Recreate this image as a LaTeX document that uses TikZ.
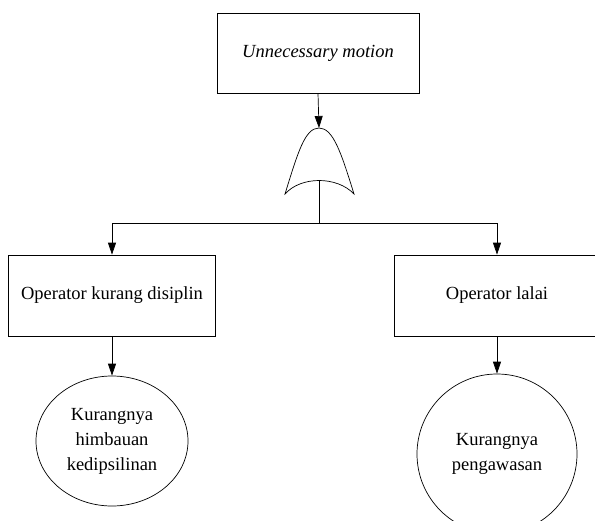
\documentclass[tikz,border=0pt]{standalone}
\usepackage{fontspec}
\setmainfont{Liberation Serif}
\usetikzlibrary{arrows.meta,shapes.geometric}
\begin{document}
\begin{tikzpicture}[x=1pt,y=-1pt,
  line width=0.7pt,
  event/.style={draw, rectangle, inner sep=0pt, font=\fontsize{18.5}{22}\selectfont, align=center},
  basic/.style={draw, ellipse, inner sep=0pt, font=\fontsize{18.5}{25}\selectfont, align=center},
  arr/.style={-{Triangle[length=12pt,width=8pt]}}]
\useasboundingbox (0,0) rectangle (595,520);
\begin{scope}
\clip (0,0) rectangle (595,520);
% events
\node[event, minimum width=202pt, minimum height=80pt] (top) at (318,53) {\itshape Unnecessary motion};
\node[event, minimum width=207pt, minimum height=81pt] (lbox) at (112,295.5) {Operator kurang disiplin};
\node[event, minimum width=206pt, minimum height=81pt] (rbox) at (497,295.5) {Operator lalai};
% basic causes
\node[basic, minimum width=152pt, minimum height=130pt] (lcause) at (112,441) {Kurangnya\\himbauan\\kedipsilinan};
\node[basic, minimum width=160pt, minimum height=160pt] (rcause) at (497,454) {Kurangnya\\pengawasan};
% OR gate
\coordinate (gtop) at (319,128);
\coordinate (gl) at (285,194);
\coordinate (gr) at (354,194);
\coordinate (gin) at (319,180);
\coordinate (split) at (319,223);
\draw (gl) .. controls (298,152) and (305,128) .. (gtop)
      .. controls (333,128) and (341,152) .. (gr)
      .. controls (337,176) and (301,176) .. (gl) -- cycle;
% connectors
\draw[arr] (top.south) -- (gtop);
\draw (gin) -- (split);
\draw[arr] (split) -| (lbox.north);
\draw[arr] (split) -| (rbox.north);
\draw[arr] (lbox.south) -- (lcause.north);
\draw[arr] (rbox.south) -- (rcause.north);
\end{scope}
\end{tikzpicture}
\end{document}
